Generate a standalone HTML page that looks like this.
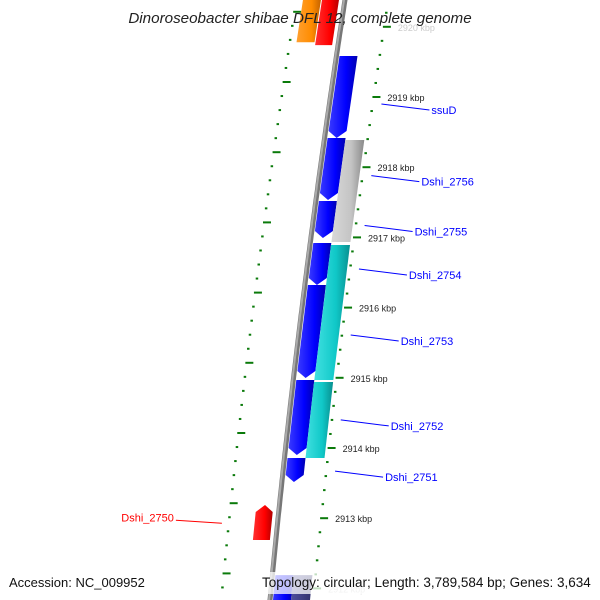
<!DOCTYPE html>
<html><head><meta charset="utf-8"><style>
html,body{margin:0;padding:0;background:#fff;}
svg{display:block;font-family:"Liberation Sans",sans-serif;}
</style></head><body>
<svg id="map" width="600" height="600" viewBox="0 0 600 600" xmlns="http://www.w3.org/2000/svg">
<defs>
<linearGradient id="gBlue" x1="0" x2="1"><stop offset="0" stop-color="#3a3aff"/><stop offset="0.6" stop-color="#0000ff"/><stop offset="1" stop-color="#0000b0"/></linearGradient>
<linearGradient id="gGrey" x1="0" x2="1"><stop offset="0" stop-color="#d8d8d8"/><stop offset="0.6" stop-color="#c4c4c4"/><stop offset="1" stop-color="#8a8a8a"/></linearGradient>
<linearGradient id="gCyan" x1="0" x2="1"><stop offset="0" stop-color="#40e0e0"/><stop offset="0.6" stop-color="#10c8c8"/><stop offset="1" stop-color="#089090"/></linearGradient>
<linearGradient id="gRed" x1="0" x2="1"><stop offset="0" stop-color="#ff3030"/><stop offset="0.6" stop-color="#ff0000"/><stop offset="1" stop-color="#b00000"/></linearGradient>
<linearGradient id="gOrange" x1="0" x2="1"><stop offset="0" stop-color="#ffa030"/><stop offset="0.6" stop-color="#ff8c00"/><stop offset="1" stop-color="#c06000"/></linearGradient>
<linearGradient id="gPurple" x1="0" x2="1"><stop offset="0" stop-color="#5050a0"/><stop offset="1" stop-color="#30306a"/></linearGradient>
</defs>
<g id="ticks"></g>
<g id="backbone"></g>
<g id="genes"></g>
<g id="labels"></g>
<text x="300" y="23" text-anchor="middle" font-size="15.2" font-style="italic" fill="#222">Dinoroseobacter shibae DFL 12, complete genome</text>
<rect x="4" y="572" width="145" height="22" fill="#fff" fill-opacity="0.75"/>
<text x="9" y="587" font-size="13" fill="#111">Accession: NC_009952</text>
<rect x="257" y="572" width="340" height="22" fill="#fff" fill-opacity="0.75"/>
<text x="262" y="587" font-size="13.5" fill="#111">Topology: circular; Length: 3,789,584 bp; Genes: 3,634</text>
</svg>
<script>
const kbpTicks = [2920, 2919, 2918, 2917, 2916, 2915, 2914, 2913, 2912];
const geneNames = ["top-orange","top-red","gene-b1","gene-b2","gene-b3","gene-b4","gene-b5","gene-b6","gene-b7","gene-grey","gene-cyan1","gene-cyan2","Dshi_2750","bottom-blue","bottom-purple"];
const geneStart = [2920.45,2920.45,2919.584,2918.416,2917.519,2916.920,2916.322,2914.969,2913.858,2918.387,2916.892,2914.940,2912.689,2912.19,2912.19];
const geneEnd   = [2919.78,2919.74,2918.416,2917.533,2916.991,2916.322,2914.997,2913.900,2913.516,2916.934,2914.969,2913.858,2913.188,2911.70,2911.70];
const geneTrack = [-2,-1,1,1,1,1,1,1,1,2,2,2,-1,1,2];
const geneColor = ["gOrange","gRed","gBlue","gBlue","gBlue","gBlue","gBlue","gBlue","gBlue","gGrey","gCyan","gCyan","gRed","gBlue","gPurple"];
const geneArrow = [0,0,1,1,1,1,1,1,1,0,0,0,1,0,0];
const labelNames = ["ssuD","Dshi_2756","Dshi_2755","Dshi_2754","Dshi_2753","Dshi_2752","Dshi_2751","Dshi_2750"];
const labelKbp = [2918.90,2917.88,2917.17,2916.55,2915.61,2914.40,2913.67,2912.97];
const labelSide = [1,1,1,1,1,1,1,-1];

const NS="http://www.w3.org/2000/svg";
function yOf(k){return 97+(2919-k)*70.2;}
function bx(y){return 345-0.155*y+0.00005*y*y;}
function mk(tag,attrs,parent){const e=document.createElementNS(NS,tag);for(const a in attrs)e.setAttribute(a,attrs[a]);parent.appendChild(e);return e;}
const gT=document.getElementById('ticks'),gB=document.getElementById('backbone'),gG=document.getElementById('genes'),gL=document.getElementById('labels');

let d="";for(let y=-5;y<=605;y+=5){d+=(y==-5?"M":"L")+bx(y).toFixed(1)+" "+y+" ";}
const bb=mk('path',{d:d,fill:'none',stroke:'#777','stroke-width':5},gB);


mk('path',{d:d,fill:'none',stroke:'#aaa','stroke-width':2,transform:'translate(-1,0)'},gB);

const k0=kbpTicks[kbpTicks.length-1]-1,k1=kbpTicks[0]+1;
for(let i=Math.round(k0*5);i<=Math.round(k1*5);i++){
  const k=i/5,major=(i%5===0);
  const y=yOf(k);
  if(y>-5&&y<605){
    const x=bx(y)+42;
    const t=mk('line',{x1:x,y1:y,x2:x+(major?8:2.5),y2:y,stroke:'#0a7a0a','stroke-width':2},gT);
    
    
  }
  const yl=y-15;
  if(yl>-5&&yl<605){
    const xl=bx(yl)-50;
    const t2=mk('line',{x1:xl,y1:yl,x2:xl+(major?8:2.5),y2:yl,stroke:'#0a7a0a','stroke-width':2},gT);
    
    
  }
}
kbpTicks.forEach(k=>{
  const y=yOf(k);
  const faded=(k===kbpTicks[0]||k===kbpTicks[kbpTicks.length-1]);
  const t=mk('text',{x:bx(y)+57,y:y+4,'font-size':9,fill:faded?'#ccc':'#222'},gT);
  
  
  t.textContent=k+" kbp";
});

function trackOff(tr){ if(tr===1)return[3,21]; if(tr===2)return[21,40]; if(tr===-1)return[-23,-6]; return[-42,-24]; }
geneNames.forEach((n,i)=>{
  const [o1,o2]=trackOff(geneTrack[i]);
  const ya=yOf(geneStart[i]),yb=yOf(geneEnd[i]);
  const up=yb<ya; const dir=up?-1:1;
  const tip=geneArrow[i]?7:0;
  const yBody=yb-dir*tip;
  const pts=[];
  pts.push([bx(ya)+o1,ya]);
  pts.push([bx(yBody)+o1,yBody]);
  if(tip)pts.push([bx(yb)+(o1+o2)/2,yb]);
  pts.push([bx(yBody)+o2,yBody]);
  pts.push([bx(ya)+o2,ya]);
  const p=mk('polygon',{points:pts.map(q=>q[0].toFixed(1)+","+q[1].toFixed(1)).join(" "),fill:'url(#'+geneColor[i]+')'},gG);
  
  
});

labelNames.forEach((n,i)=>{
  const y=yOf(labelKbp[i]);
  const g=mk('g',{},gL);
  
  
  if(labelSide[i]>0){
    const x1=bx(y)+52;
    mk('line',{x1:x1,y1:y,x2:x1+48,y2:y+6,stroke:'#00f','stroke-width':1},g);
    const t=mk('text',{x:x1+50,y:y+10,'font-size':11,fill:'#00f'},g);
    t.textContent=n;
  } else {
    const x1=bx(y)-56;
    mk('line',{x1:x1,y1:y+3,x2:x1-46,y2:y,stroke:'#f00','stroke-width':1},g);
    const t=mk('text',{x:x1-48,y:y+1,'font-size':11,fill:'#f00','text-anchor':'end'},g);
    t.textContent=n;
  }
});
</script>
</body></html>
